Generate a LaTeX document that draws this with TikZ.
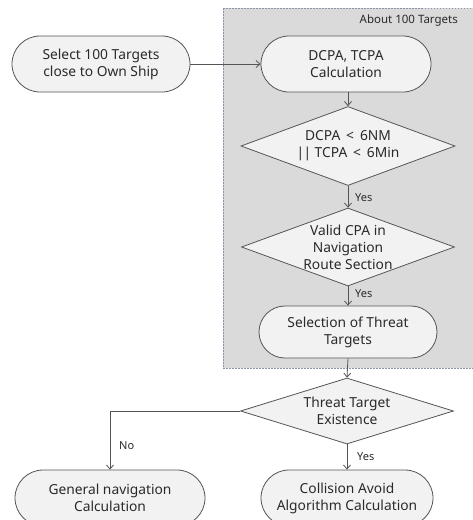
\documentclass[tikz,border=0pt]{standalone}
\usepackage{fontspec}
\setmainfont{Noto Sans}
\usetikzlibrary{shapes.geometric,arrows.meta}
\definecolor{boxfill}{HTML}{DADADA}
\definecolor{nodefill}{HTML}{F2F2F2}
\definecolor{edge}{HTML}{555555}
\definecolor{txt}{HTML}{2A2A2A}
\definecolor{dashc}{HTML}{8A94A6}
\tikzset{
  x=1pt, y=-1pt,
  every node/.style={font=\fontsize{13.8}{17}\selectfont, text=txt, align=center},
  stadium/.style={draw=edge, fill=nodefill, line width=0.8pt, rectangle, minimum width=#1, minimum height=56pt, rounded corners=28pt, inner sep=0pt},
  dia/.style={draw=edge, fill=nodefill, line width=0.8pt, diamond, inner sep=0pt},
  lbl/.style={font=\fontsize{11}{13}\selectfont, inner sep=0pt, anchor=west},
  flow/.style={draw=edge, line width=0.8pt, -{Straight Barb[length=4pt,width=7pt]}},
  groupbox/.style={fill=boxfill, draw=dashc, dash pattern=on 1.5pt off 1.5pt, line width=0.6pt}
}
\begin{document}
\begin{tikzpicture}
\useasboundingbox (0,0) rectangle (473,520);
\clip (0,0) rectangle (473,520);
\fill[white] (0,0) rectangle (473,520);
\draw[groupbox] (223,8) rectangle (473,368);
\node[font=\fontsize{11.5}{13}\selectfont, anchor=east, inner sep=0pt] (grp) at (458,21) {About 100 Targets};

\node[stadium=178pt] (sel) at (101,64) {Select 100 Targets\\close to Own Ship};
\node[stadium=170pt] (dcpa) at (346,64) {DCPA, TCPA\\Calculation};
\node[dia, minimum width=214pt, minimum height=79pt] (d1) at (348,146) {};
\node (d1t) at (348,146) {DCPA \,<\, 6NM\\\textbar\kern-0.6pt\textbar\ TCPA \,<\, 6Min};
\node[dia, minimum width=213pt, minimum height=78pt] (d2) at (348,247) {};
\node (d2t) at (348,247) {Valid CPA in\\Navigation\\Route Section};
\node[stadium=178pt, minimum height=52pt, rounded corners=26pt] (thr) at (348,332) {Selection of Threat\\Targets};
\node[dia, minimum width=213pt, minimum height=66pt] (d3) at (347,411) {};
\node (d3t) at (347,411) {Threat Target\\Existence};
\node[stadium=190pt] (gen) at (110,498) {General navigation\\Calculation};
\node[stadium=172pt] (col) at (347,498) {Collision Avoid\\Algorithm Calculation};

\draw[flow] (sel.east) -- (dcpa.west);
\draw[flow] (dcpa.south -| d1.north) -- (d1.north);
\draw[flow] (d1.south) -- (d2.north);
\draw[flow] (d2.south) -- (thr.north);
\draw[flow] (thr.south) -- (d3.north);
\draw[flow] (d3.west) -| (gen.north);
\draw[flow] (d3.south) -- (col.north);

\node[lbl] (y1) at (355,198) {Yes};
\node[lbl] (y2) at (355,294) {Yes};
\node[lbl] (y3) at (357,457) {Yes};
\node[lbl] (n1) at (119,446) {No};
\end{tikzpicture}
\end{document}
